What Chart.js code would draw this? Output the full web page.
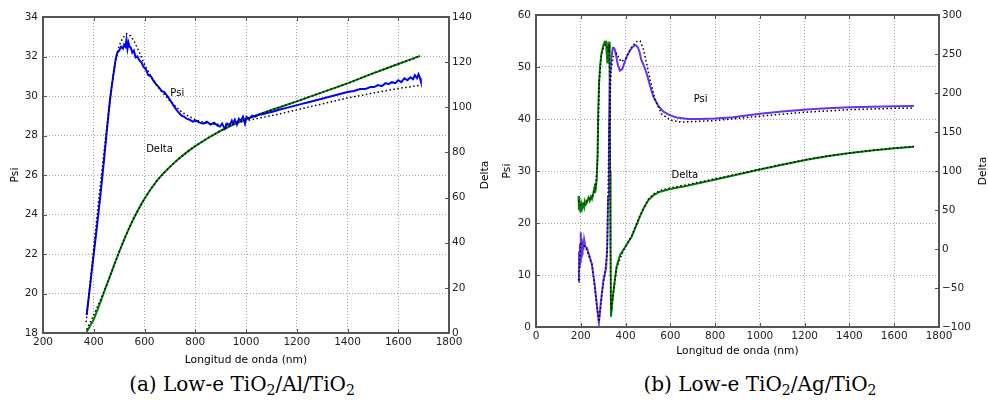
<!DOCTYPE html>
<html>
<head>
<meta charset="utf-8">
<script src="https://cdn.jsdelivr.net/npm/chart.js@4/dist/chart.umd.min.js"></script>
<style>
  body { margin: 0; background: #fff; width: 988px; height: 413px; position: relative; overflow: hidden; }
  canvas { position: absolute; top: 0; }
  #cA { left: 0; }
  #cB { left: 494px; }
  .cap { position: absolute; top: 372px; font-family: "DejaVu Serif", serif; font-size: 20px; color: #000; white-space: nowrap; transform: translateX(-50%); }
  .cap sub { font-size: 14px; vertical-align: -4px; line-height: 0; }
</style>
</head>
<body>
<canvas id="cA" width="494" height="370"></canvas>
<canvas id="cB" width="494" height="370"></canvas>
<div class="cap" style="left:242px">(a) Low-e TiO<sub>2</sub>/Al/TiO<sub>2</sub></div>
<div class="cap" style="left:760px">(b) Low-e TiO<sub>2</sub>/Ag/TiO<sub>2</sub></div>
<script>
// ---- (a) TiO2/Al/TiO2 ----
const alPsiX = [372, 381, 390, 400, 410, 424, 440, 452, 464, 472, 480, 487, 493, 500, 508, 515, 520, 525, 529, 533, 537, 541, 546, 552, 558, 565, 572, 580, 588, 595, 605, 615, 625, 634, 645, 656, 668, 678, 687, 698, 708, 718, 726, 736, 746, 756, 766, 778, 790, 802, 818, 832, 846, 860, 874, 888, 897, 906, 916, 926, 935, 944, 948, 956, 964, 972, 980, 988, 996, 1002, 1012, 1024, 1036, 1050, 1066, 1085, 1105, 1130, 1160, 1190, 1220, 1250, 1280, 1310, 1340, 1370, 1400, 1425, 1450, 1470, 1490, 1505, 1520, 1535, 1550, 1562, 1575, 1588, 1600, 1612, 1624, 1636, 1648, 1658, 1666, 1674, 1680, 1686, 1689];
const alPsi = [18.9, 19.9, 20.9, 22.0, 23.1, 24.7, 26.7, 28.3, 29.8, 30.6, 31.3, 31.9, 32.2, 32.3, 32.5, 32.4, 32.6, 32.5, 32.85, 32.4, 32.7, 32.5, 32.45, 32.2, 32.3, 31.95, 32.0, 31.8, 31.7, 31.5, 31.35, 31.05, 31.0, 30.8, 30.6, 30.45, 30.25, 30.2, 30.05, 29.85, 29.65, 29.45, 29.3, 29.15, 29.0, 28.95, 28.85, 28.8, 28.7, 28.75, 28.65, 28.6, 28.7, 28.55, 28.65, 28.5, 28.45, 28.6, 28.35, 28.6, 28.5, 28.75, 28.6, 28.8, 28.55, 28.85, 28.75, 28.95, 28.6, 28.95, 28.85, 29.0, 28.95, 29.05, 29.08, 29.15, 29.2, 29.3, 29.4, 29.5, 29.6, 29.7, 29.8, 29.9, 30.0, 30.1, 30.2, 30.25, 30.35, 30.35, 30.45, 30.45, 30.55, 30.5, 30.65, 30.6, 30.7, 30.65, 30.8, 30.7, 30.9, 30.8, 30.95, 30.85, 31.05, 30.9, 31.1, 30.9, 30.75];
const alPsiFitX = [370, 385, 400, 420, 440, 460, 480, 500, 515, 530, 545, 560, 580, 600, 625, 650, 700, 750, 800, 850, 900, 950, 1000, 1100, 1200, 1300, 1400, 1500, 1600, 1690];
const alPsiFit = [18.55, 20.4, 22.3, 24.8, 27.1, 29.4, 31.4, 32.55, 32.95, 33.15, 33.05, 32.75, 32.2, 31.6, 31.0, 30.5, 29.75, 29.15, 28.8, 28.6, 28.55, 28.6, 28.75, 29.0, 29.3, 29.6, 29.9, 30.15, 30.38, 30.55];
const alDeltaX = [372, 385, 400, 412, 424, 437, 450, 470, 490, 508, 525, 540, 556, 570, 585, 600, 625, 650, 675, 700, 725, 750, 775, 800, 850, 900, 950, 1000, 1050, 1100, 1150, 1200, 1250, 1300, 1350, 1400, 1450, 1500, 1550, 1600, 1650, 1686];
const alDelta = [0.5, 3, 6, 9.5, 13, 17, 21, 27, 33, 38.2, 42.8, 46.6, 50.4, 53.5, 56.6, 59.5, 63.8, 67.6, 70.8, 73.6, 76.2, 78.6, 80.8, 82.8, 86.4, 89.6, 92.3, 94.7, 96.8, 98.8, 100.7, 102.6, 104.6, 106.6, 108.6, 110.6, 112.8, 115, 117.1, 119.2, 121.2, 122.8];
const alDeltaFit = [1.5, 4.5, 8, 11, 14, 17.5, 21, 27, 33, 38.2, 42.8, 46.6, 50.4, 53.5, 56.6, 59.5, 63.8, 67.6, 70.8, 73.6, 76.2, 78.6, 80.8, 82.8, 86.4, 89.6, 92.3, 94.7, 96.8, 98.8, 100.7, 102.6, 104.6, 106.6, 108.6, 110.6, 112.8, 115, 117.1, 119.2, 121.2, 122.8];

// ---- (b) TiO2/Ag/TiO2 ----
const agPsiX = [190, 192, 194, 196, 198, 200, 202, 204, 206, 208, 211, 215, 220, 228, 240, 250, 263, 272, 281, 290, 301, 313, 318, 322, 326, 330, 336, 343, 350, 358, 366, 375, 385, 395, 405, 420, 432, 445, 455, 463, 470, 482, 494, 510, 524, 545, 569, 600, 628, 680, 732, 800, 881, 956, 1000, 1100, 1209, 1300, 1403, 1500, 1603, 1688];
const agPsi = [8.7, 14.5, 11.5, 16, 12.5, 18.2, 13.5, 17, 14, 16.5, 14.8, 16.8, 15.5, 15.2, 13.5, 12, 7.8, 4, 0.8, 5, 9, 11.3, 15.4, 25, 38, 47, 51.5, 53.7, 53.6, 52.2, 50.3, 49.3, 49.6, 50.8, 52, 53.2, 53.9, 54.2, 53.8, 52.8, 51.4, 50.2, 48.8, 46.3, 44.3, 42.6, 41.4, 40.7, 40.3, 40.0, 40.0, 40.1, 40.35, 40.75, 41.0, 41.45, 41.85, 42.05, 42.25, 42.35, 42.45, 42.5];
const agPsiFitX = [190, 200, 220, 250, 281, 300, 318, 325, 335, 345, 360, 380, 400, 430, 450, 465, 480, 495, 510, 530, 560, 600, 650, 700, 800, 900, 1000, 1200, 1400, 1600, 1688];
const agPsiFit = [9, 16, 15.5, 12, 1, 8, 14, 35, 49.5, 52, 52.6, 51, 51.6, 54, 54.9, 55, 53.4, 50.5, 47.5, 44, 41, 39.8, 39.4, 39.5, 39.7, 40.1, 40.55, 41.3, 41.8, 42.05, 42.1];
const agDeltaX = [190, 192, 195, 198, 202, 206, 210, 214, 218, 222, 226, 230, 235, 240, 245, 250, 256, 262, 266, 271, 275, 278, 282, 286, 292, 301, 308, 313, 316, 319, 323, 327, 329, 331, 333, 335, 340, 345, 352, 360, 375, 390, 410, 427, 445, 464, 482, 502, 525, 554, 600, 658, 700, 807, 911, 1000, 1100, 1209, 1300, 1403, 1500, 1603, 1688];
const agDelta = [68, 50, 60, 47, 58, 52, 57, 54, 61, 57, 58.6, 63, 66, 62, 67, 64, 71.4, 80, 76, 88.5, 120, 178, 215, 233.7, 250, 261.5, 266, 265.8, 250, 238, 255, 265.8, 230, 100, 0, -86.8, -70, -56.8, -40, -22.7, -8, -1.3, 8, 15.8, 28, 41.4, 53, 62.8, 69, 73.5, 77, 80, 82.8, 89.5, 96.2, 101.8, 108, 114.5, 119, 123, 126.3, 129.2, 131.2];
const agDeltaFitX = [190, 200, 215, 230, 245, 256, 266, 275, 282, 290, 300, 310, 318, 324, 328, 331, 334, 338, 345, 360, 390, 427, 464, 502, 525, 554, 600, 658, 700, 807, 911, 1000, 1100, 1209, 1300, 1403, 1500, 1603, 1688];
const agDeltaFit = [62, 56, 58, 62, 65, 70, 77, 115, 210, 245, 258, 262, 258, 252, 262, 120, -70, -75, -58, -24, -2, 16.5, 42.5, 64, 70.5, 75, 78.5, 81.5, 84, 90.3, 96.8, 102.3, 108.4, 114.8, 119.2, 123.2, 126.5, 129.5, 131.5];

// axis ranges
const alX = [200, 1800], alPsiRange = [18, 34], alDeltaRange = [0, 140];
const agX = [0, 1800], agPsiRange = [0, 60], agDeltaRange = [-100, 300];

function pts(xs, ys) {
  return xs.map((x, i) => ({x: x, y: ys[i]}));
}

const tickFont = {family: 'DejaVu Sans', size: 10.5};
const titleFont = {family: 'DejaVu Sans', size: 10.7};
const spine = '#555555';

// frame, inward ticks, notes, right-side title
const extras = {
  id: 'extras',
  afterDraw(chart, args, opts) {
    const ctx = chart.ctx, a = chart.chartArea;
    const sx = chart.scales.x, sy = chart.scales.y, sy1 = chart.scales.y1;
    ctx.save();
    ctx.strokeStyle = spine;
    ctx.lineWidth = 1;
    ctx.beginPath();
    sx.ticks.forEach(t => {
      const p = Math.round(sx.getPixelForValue(t.value)) + 0.5;
      ctx.moveTo(p, a.bottom); ctx.lineTo(p, a.bottom - 4);
      ctx.moveTo(p, a.top); ctx.lineTo(p, a.top + 4);
    });
    sy.ticks.forEach(t => {
      const p = Math.round(sy.getPixelForValue(t.value)) + 0.5;
      ctx.moveTo(a.left, p); ctx.lineTo(a.left + 4, p);
    });
    sy1.ticks.forEach(t => {
      const p = Math.round(sy1.getPixelForValue(t.value)) + 0.5;
      ctx.moveTo(a.right, p); ctx.lineTo(a.right - 4, p);
    });
    ctx.stroke();
    ctx.lineWidth = 2;
    ctx.strokeRect(a.left, a.top, a.right - a.left, a.bottom - a.top);

    ctx.fillStyle = '#000';
    ctx.font = '10px "DejaVu Sans"';
    ctx.textAlign = 'center';
    ctx.textBaseline = 'middle';
    opts.notes.forEach(n => {
      ctx.fillText(n.text, sx.getPixelForValue(n.x), sy.getPixelForValue(n.y));
    });
    ctx.font = '10.7px "DejaVu Sans"';
    ctx.translate(opts.titleX, (a.top + a.bottom) / 2);
    ctx.rotate(-Math.PI / 2);
    ctx.fillText('Delta', 0, 0);
    ctx.restore();
  }
};

function makeChart(id, d) {
  return new Chart(document.getElementById(id), {
    type: 'line',
    data: {
      datasets: [
        {data: pts(d.psiFitX, d.psiFit), yAxisID: 'y', borderColor: '#000', borderWidth: 1.5, borderDash: [1.5, 2.5], order: 0},
        {data: pts(d.deltaFitX, d.deltaFit), yAxisID: 'y1', borderColor: '#000', borderWidth: 1.5, borderDash: [1.5, 2.5], order: 0},
        {data: pts(d.psiX, d.psi), yAxisID: 'y', borderColor: d.psiColor, borderWidth: 2, order: 1},
        {data: pts(d.deltaX, d.delta), yAxisID: 'y1', borderColor: '#008000', borderWidth: 2, order: 1}
      ]
    },
    plugins: [extras],
    options: {
      responsive: false,
      animation: false,
      devicePixelRatio: 1,
      parsing: false,
      elements: {point: {radius: 0}, line: {tension: 0, fill: false}},
      layout: {padding: {top: d.top, left: 0, right: 0, bottom: 0}},
      plugins: {
        legend: {display: false},
        tooltip: {enabled: false},
        extras: {notes: d.notes, titleX: d.deltaTitleX}
      },
      scales: {
        x: {
          type: 'linear', min: d.xr[0], max: d.xr[1],
          ticks: {stepSize: 200, font: tickFont, color: '#222', padding: 3, maxRotation: 0,
                  callback: v => String(v)},
          grid: {color: '#a8a8a8', drawTicks: false},
          border: {dash: [1, 2], display: false},
          title: {display: true, text: 'Longitud de onda (nm)', font: titleFont, color: '#000', padding: {top: d.xTitlePad, bottom: d.xTitlePad}},
          afterFit: s => { s.height = d.xh; }
        },
        y: {
          position: 'left', min: d.psiR[0], max: d.psiR[1],
          ticks: {stepSize: d.psiStep, font: tickFont, color: '#222', padding: 5,
                  callback: v => String(v)},
          grid: {color: '#a8a8a8', drawTicks: false},
          border: {dash: [1, 2], display: false},
          title: {display: true, text: 'Psi', font: titleFont, color: '#000', padding: {top: d.psiTitlePad, bottom: d.psiTitlePad}},
          afterFit: s => { s.width = d.yw; }
        },
        y1: {
          position: 'right', min: d.deltaR[0], max: d.deltaR[1],
          ticks: {stepSize: d.deltaStep, font: tickFont, color: '#222', padding: 3,
                  callback: v => String(v).replace('-', '\u2212')},
          grid: {display: false, drawTicks: false},
          border: {display: false},
          afterFit: s => { s.width = d.y1w; }
        }
      }
    }
  });
}

makeChart('cA', {
  psiX: alPsiX, psi: alPsi, psiFitX: alPsiFitX, psiFit: alPsiFit,
  deltaX: alDeltaX, delta: alDelta, deltaFitX: alDeltaX, deltaFit: alDeltaFit,
  psiColor: '#0000ff', xr: alX, psiR: alPsiRange, deltaR: alDeltaRange, psiStep: 2, deltaStep: 20,
  top: 17, xh: 37, yw: 43, y1w: 45, xTitlePad: 3, psiTitlePad: 9, deltaTitleX: 485,
  notes: [{text: 'Psi', x: 729, y: 30.15}, {text: 'Delta', x: 659, y: 27.3}]
});

makeChart('cB', {
  psiX: agPsiX, psi: agPsi, psiFitX: agPsiFitX, psiFit: agPsiFit,
  deltaX: agDeltaX, delta: agDelta, deltaFitX: agDeltaFitX, deltaFit: agDeltaFit,
  psiColor: '#6633ee', xr: agX, psiR: agPsiRange, deltaR: agDeltaRange, psiStep: 10, deltaStep: 50,
  top: 15, xh: 43, yw: 42, y1w: 49, xTitlePad: 12, psiTitlePad: 7, deltaTitleX: 489,
  notes: [{text: 'Psi', x: 735, y: 43.75}, {text: 'Delta', x: 665, y: 29.1}]
});
</script>
</body>
</html>
